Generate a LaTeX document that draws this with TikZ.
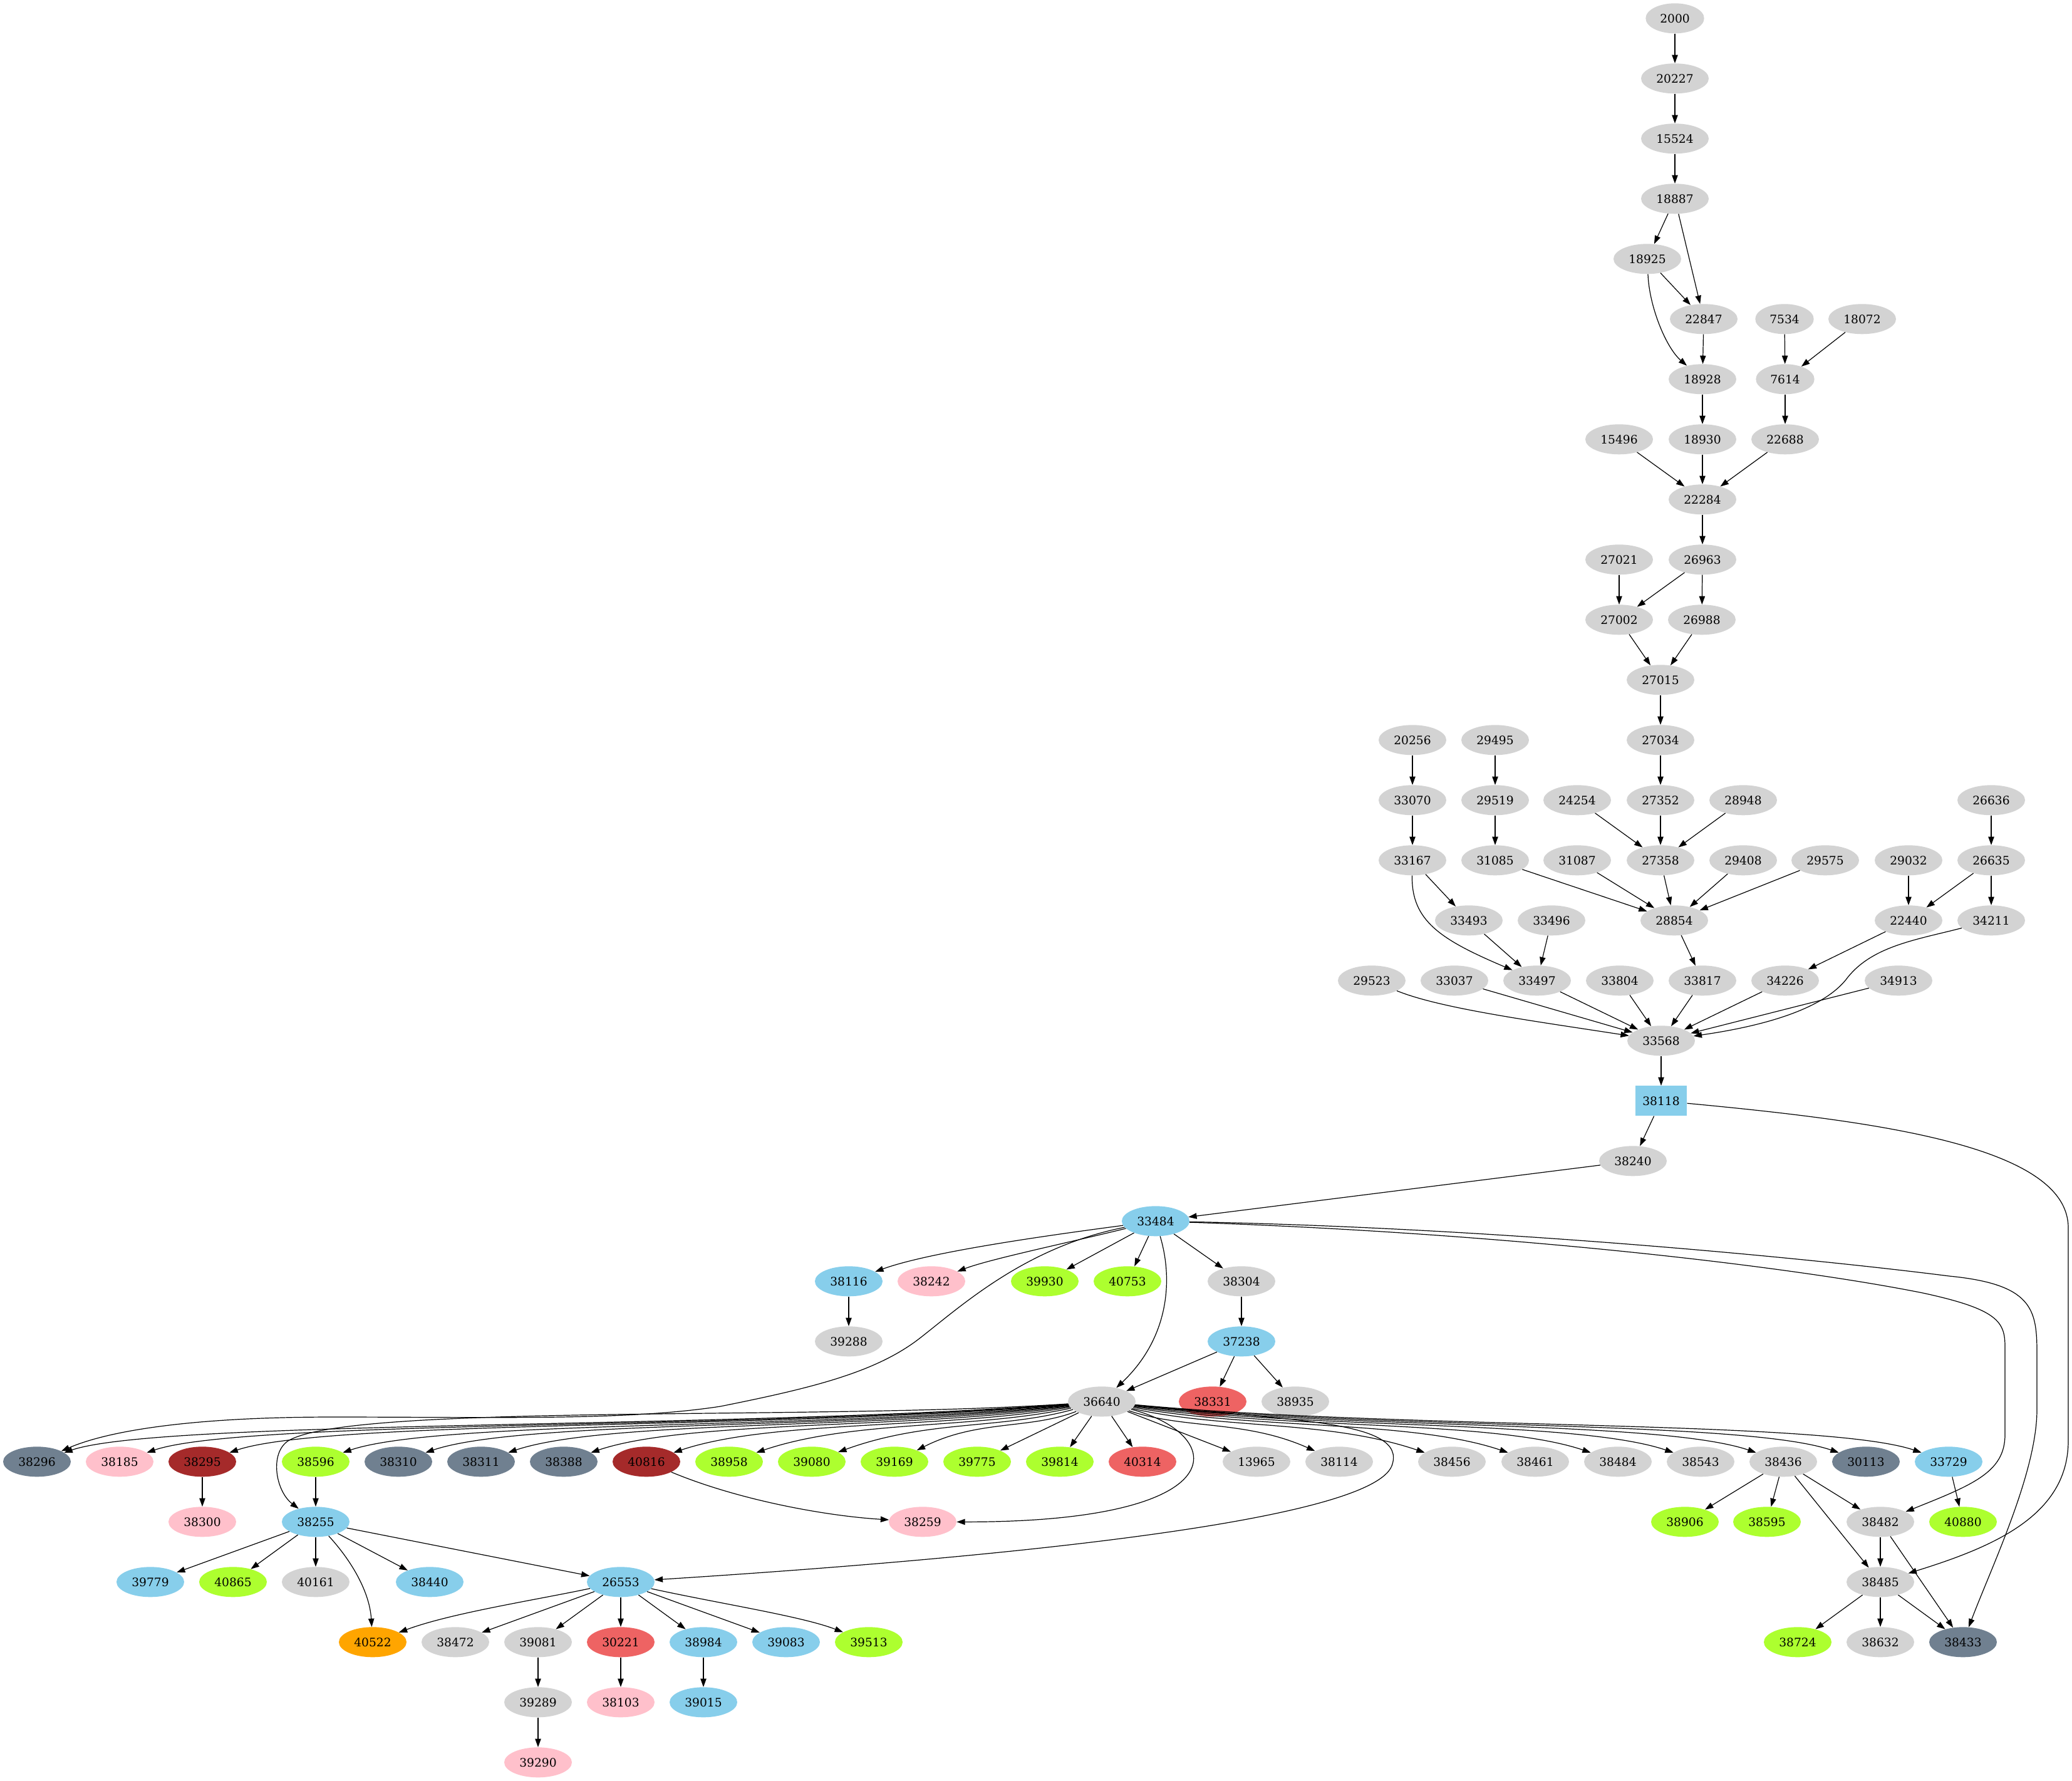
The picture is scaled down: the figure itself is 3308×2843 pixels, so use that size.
\documentclass[tikz,border=0pt]{standalone}
\usepackage{fontspec}
\setmainfont{DejaVu Serif}
\usetikzlibrary{shapes.geometric,arrows.meta}
\definecolor{lg}{HTML}{D3D3D3}
\definecolor{sb}{HTML}{87CEEB}
\definecolor{pk}{HTML}{FFC0CB}
\definecolor{gy}{HTML}{ADFF2F}
\definecolor{sg}{HTML}{708090}
\definecolor{br}{HTML}{A52A2A}
\definecolor{og}{HTML}{FFA500}
\definecolor{rd}{HTML}{EE6363}
\tikzset{
  nd/.style={ellipse, inner sep=0pt, minimum height=36pt, minimum width=81pt, fill=lg, draw=none, font=\fontsize{14}{16}\selectfont},
  n4/.style={minimum width=70pt},
  bx/.style={rectangle, minimum width=62pt, minimum height=36pt},
  ed/.style={-{Triangle[length=10pt,width=7pt]}, line width=0.9pt, black},
}
\newcommand\gn[4]{\node[nd,#4] (n#1) at (#2,#3) {#1};}
\begin{document}
\begin{tikzpicture}[x=0.75pt, y=-0.75pt]
\useasboundingbox (0,0) rectangle (3308,2843);
% ---- nodes ----
\gn{2000}{2674}{29.3}{n4}
\gn{20227}{2674}{125.3}{}
\gn{15524}{2674}{221.3}{}
\gn{18887}{2674}{317.3}{}
\gn{18925}{2630}{413.3}{}
\gn{22847}{2720}{509.3}{}
\gn{7534}{2849}{509.3}{n4}
\gn{18072}{2973}{509.3}{}
\gn{18928}{2718}{605.3}{}
\gn{7614}{2850}{605.3}{n4}
\gn{15496}{2585}{701.3}{}
\gn{18930}{2718}{701.3}{}
\gn{22688}{2850}{701.3}{}
\gn{22284}{2718}{797.3}{}
\gn{27021}{2585}{893.3}{}
\gn{26963}{2718}{893.3}{}
\gn{27002}{2585}{989.3}{}
\gn{26988}{2717}{989.3}{}
\gn{27015}{2651}{1085.3}{}
\gn{20256}{2255}{1181.3}{}
\gn{29495}{2387}{1181.3}{}
\gn{27034}{2651}{1181.3}{}
\gn{33070}{2255}{1277.3}{}
\gn{29519}{2387}{1277.3}{}
\gn{24254}{2518}{1277.3}{}
\gn{27352}{2651}{1277.3}{}
\gn{28948}{2783}{1277.3}{}
\gn{26636}{3179}{1277.3}{}
\gn{33167}{2255}{1373.3}{}
\gn{31085}{2387}{1373.3}{}
\gn{31087}{2518}{1373.3}{}
\gn{27358}{2651}{1373.3}{}
\gn{29408}{2783}{1373.3}{}
\gn{29575}{2914}{1373.3}{}
\gn{29032}{3047}{1373.3}{}
\gn{26635}{3179}{1373.3}{}
\gn{33493}{2345}{1469.3}{}
\gn{33496}{2477}{1469.3}{}
\gn{28854}{2673}{1469.3}{}
\gn{22440}{3047}{1469.3}{}
\gn{34211}{3179}{1469.3}{}
\gn{29523}{2190}{1565.3}{}
\gn{33037}{2322}{1565.3}{}
\gn{33497}{2454}{1565.3}{}
\gn{33804}{2586}{1565.3}{}
\gn{33817}{2718}{1565.3}{}
\gn{34226}{2850}{1565.3}{}
\gn{34913}{3031}{1565.3}{}
\gn{33568}{2652}{1661.3}{}
\gn{38118}{2652}{1757.3}{bx,fill=sb}
\gn{38240}{2607}{1853.3}{}
\gn{33484}{1845}{1949.3}{fill=sb}
\gn{38116}{1355}{2045.3}{fill=sb}
\gn{38242}{1487}{2045.3}{fill=pk}
\gn{39930}{1668}{2045.3}{fill=gy}
\gn{40753}{1800}{2045.3}{fill=gy}
\gn{38304}{1982}{2045.3}{}
\gn{39288}{1355}{2141.3}{}
\gn{37238}{1982}{2141.3}{fill=sb}
\gn{36640}{1759}{2237.3}{}
\gn{38331}{1936}{2237.3}{fill=rd}
\gn{38935}{2068}{2237.3}{}
% rank 24
\gn{38296}{59}{2333.3}{fill=sg}
\gn{38185}{191}{2333.3}{fill=pk}
\gn{38295}{323}{2333.3}{fill=br}
\gn{38596}{504}{2333.3}{fill=gy}
\gn{38310}{636}{2333.3}{fill=sg}
\gn{38311}{768}{2333.3}{fill=sg}
\gn{38388}{900}{2333.3}{fill=sg}
\gn{40816}{1032}{2333.3}{fill=br}
\gn{38958}{1164}{2333.3}{fill=gy}
\gn{39080}{1296}{2333.3}{fill=gy}
\gn{39169}{1428}{2333.3}{fill=gy}
\gn{39775}{1560}{2333.3}{fill=gy}
\gn{39814}{1692}{2333.3}{fill=gy}
\gn{40314}{1824}{2333.3}{fill=rd}
\gn{13965}{2006}{2333.3}{}
\gn{38114}{2138}{2333.3}{}
\gn{38456}{2318}{2333.3}{}
\gn{38461}{2451}{2333.3}{}
\gn{38484}{2583}{2333.3}{}
\gn{38543}{2715}{2333.3}{}
\gn{38436}{2847}{2333.3}{}
\gn{30113}{2979}{2333.3}{fill=sg}
\gn{33729}{3111}{2333.3}{fill=sb}
% rank 25
\gn{38300}{323}{2429.3}{fill=pk}
\gn{38255}{504}{2429.3}{fill=sb}
\gn{38259}{1473}{2429.3}{fill=pk}
\gn{38906}{2690}{2429.3}{fill=gy}
\gn{38595}{2821}{2429.3}{fill=gy}
\gn{38482}{3002}{2429.3}{}
\gn{40880}{3134}{2429.3}{fill=gy}
% rank 26
\gn{39779}{240}{2525.3}{fill=sb}
\gn{40865}{372}{2525.3}{fill=gy}
\gn{40161}{504}{2525.3}{}
\gn{38440}{686}{2525.3}{fill=sb}
\gn{26553}{991}{2525.3}{fill=sb}
\gn{38485}{3002}{2525.3}{}
% rank 27
\gn{40522}{595}{2621.3}{fill=og}
\gn{38472}{727}{2621.3}{}
\gn{39081}{859}{2621.3}{}
\gn{30221}{991}{2621.3}{fill=rd}
\gn{38984}{1123}{2621.3}{fill=sb}
\gn{39083}{1255}{2621.3}{fill=sb}
\gn{39513}{1387}{2621.3}{fill=gy}
\gn{38724}{2870}{2621.3}{fill=gy}
\gn{38632}{3002}{2621.3}{}
\gn{38433}{3134}{2621.3}{fill=sg}
% rank 28-29
\gn{39289}{859}{2717.3}{}
\gn{38103}{991}{2717.3}{fill=pk}
\gn{39015}{1123}{2717.3}{fill=sb}
\gn{39290}{859}{2813.3}{fill=pk}
% ---- straight edges ----
\foreach \a/\b in {2000/20227, 20227/15524, 15524/18887, 18887/18925, 18887/22847,
  18925/22847, 22847/18928, 7534/7614, 18072/7614, 18928/18930, 7614/22688,
  15496/22284, 18930/22284, 22688/22284, 22284/26963, 27021/27002, 26963/27002,
  26963/26988, 27002/27015, 26988/27015, 27015/27034, 27034/27352, 20256/33070,
  29495/29519, 24254/27358, 27352/27358, 28948/27358, 26636/26635, 33070/33167,
  29519/31085, 31087/28854, 27358/28854, 29408/28854, 29575/28854, 31085/28854,
  29032/22440, 26635/22440, 26635/34211, 33167/33493, 33493/33497, 33496/33497,
  28854/33817, 22440/34226, 33037/33568, 33497/33568, 33804/33568, 33817/33568,
  34226/33568, 34913/33568, 33568/38118, 38118/38240, 38240/33484,
  33484/39930, 33484/40753, 33484/38304, 38116/39288, 38304/37238,
  37238/36640, 37238/38331, 37238/38935,
  36640/39775, 36640/39814, 36640/40314, 36640/13965,
  38295/38300, 38596/38255, 38255/39779, 38255/40865, 38255/40161, 38255/38440,
  38255/26553, 26553/38472, 26553/39081, 26553/30221, 26553/38984, 26553/39083,
  39081/39289, 30221/38103, 38984/39015, 39289/39290,
  38436/38906, 38436/38595, 38436/38482, 38436/38485, 33729/40880,
  38482/38485, 38482/38433, 38485/38724, 38485/38632, 38485/38433}
  {\draw[ed] (n\a) -- (n\b);}
% ---- curved edges ----
\draw[ed] (n18925) .. controls (2633,490) and (2660,555) .. (n18928);
\draw[ed] (n33167) .. controls (2253,1470) and (2300,1500) .. (n33497);
\draw[ed] (n34211) .. controls (3060,1500) and (2990,1510) .. (2950,1560)
  .. controls (2910,1615) and (2800,1640) .. (n33568);
\draw[ed] (n29523) .. controls (2300,1610) and (2450,1630) .. (n33568);
\draw[ed] (n33484) .. controls (1650,1975) and (1480,2000) .. (n38116);
\draw[ed] (n33484) .. controls (1700,1985) and (1580,2010) .. (n38242);
\draw[ed] (n33484) .. controls (1875,2050) and (1862,2140) .. (n36640);
\draw[ed] (n33484) .. controls (1640,1990) and (1540,2080) .. (1470,2135)
  .. controls (1400,2190) and (1300,2215) .. (1150,2245)
  .. controls (1000,2268) and (800,2262) .. (530,2262)
  .. controls (300,2262) and (170,2285) .. (n38296);
\draw[ed] (n33484) .. controls (2400,1968) and (2850,2020) .. (3070,2064)
  .. controls (3190,2090) and (3201,2110) .. (3201,2150) -- (3201,2290)
  .. controls (3201,2350) and (3150,2370) .. (n38482);
\draw[ed] (n33484) .. controls (2400,1960) and (2900,2010) .. (3112,2037)
  .. controls (3245,2050) and (3252,2090) .. (3252,2160) -- (3252,2250)
  .. controls (3252,2350) and (3180,2500) .. (n38433);
\draw[ed] (n38118) .. controls (3000,1790) and (3302,1830) .. (3302,1960) -- (3302,2300)
  .. controls (3302,2420) and (3180,2470) .. (n38485);
% fan from 36640
\foreach \t/\tx in {38296/59, 38185/191, 38295/323, 38596/504, 38310/636, 38311/768,
  38388/900, 40816/1032, 38958/1164, 39080/1296, 39169/1428}{
  \pgfmathsetmacro\ca{1759-0.35*(1759-\tx)}
  \pgfmathsetmacro\cb{\tx+min(200,0.4*(1759-\tx))}
  \draw[ed] (n36640) .. controls (\ca,2282) and (\cb,2266) .. (n\t);
}
\foreach \t/\tx in {38114/2138, 38456/2318, 38461/2451, 38484/2583, 38543/2715,
  38436/2847, 30113/2979, 33729/3111}{
  \pgfmathsetmacro\ca{1759+0.35*(\tx-1759)}
  \pgfmathsetmacro\cb{\tx-min(200,0.4*(\tx-1759))}
  \draw[ed] (n36640) .. controls (\ca,2282) and (\cb,2266) .. (n\t);
}
\draw[ed] (n36640) .. controls (1300,2268) and (560,2240) .. (460,2300)
  .. controls (430,2320) and (440,2380) .. (n38255);
\draw[ed] (n36640) .. controls (1960,2290) and (1980,2430) .. (n38259);
\draw[ed] (n36640) .. controls (2050,2268) and (2250,2265) .. (2222,2340)
  .. controls (2190,2420) and (1700,2480) .. (n26553);
\draw[ed] (n40816) .. controls (1180,2395) and (1320,2420) .. (n38259);
\draw[ed] (n38255) .. controls (560,2490) and (590,2540) .. (n40522);
\draw[ed] (n26553) .. controls (850,2555) and (720,2575) .. (n40522);
\draw[ed] (n26553) .. controls (1150,2560) and (1280,2580) .. (n39513);
\end{tikzpicture}
\end{document}
